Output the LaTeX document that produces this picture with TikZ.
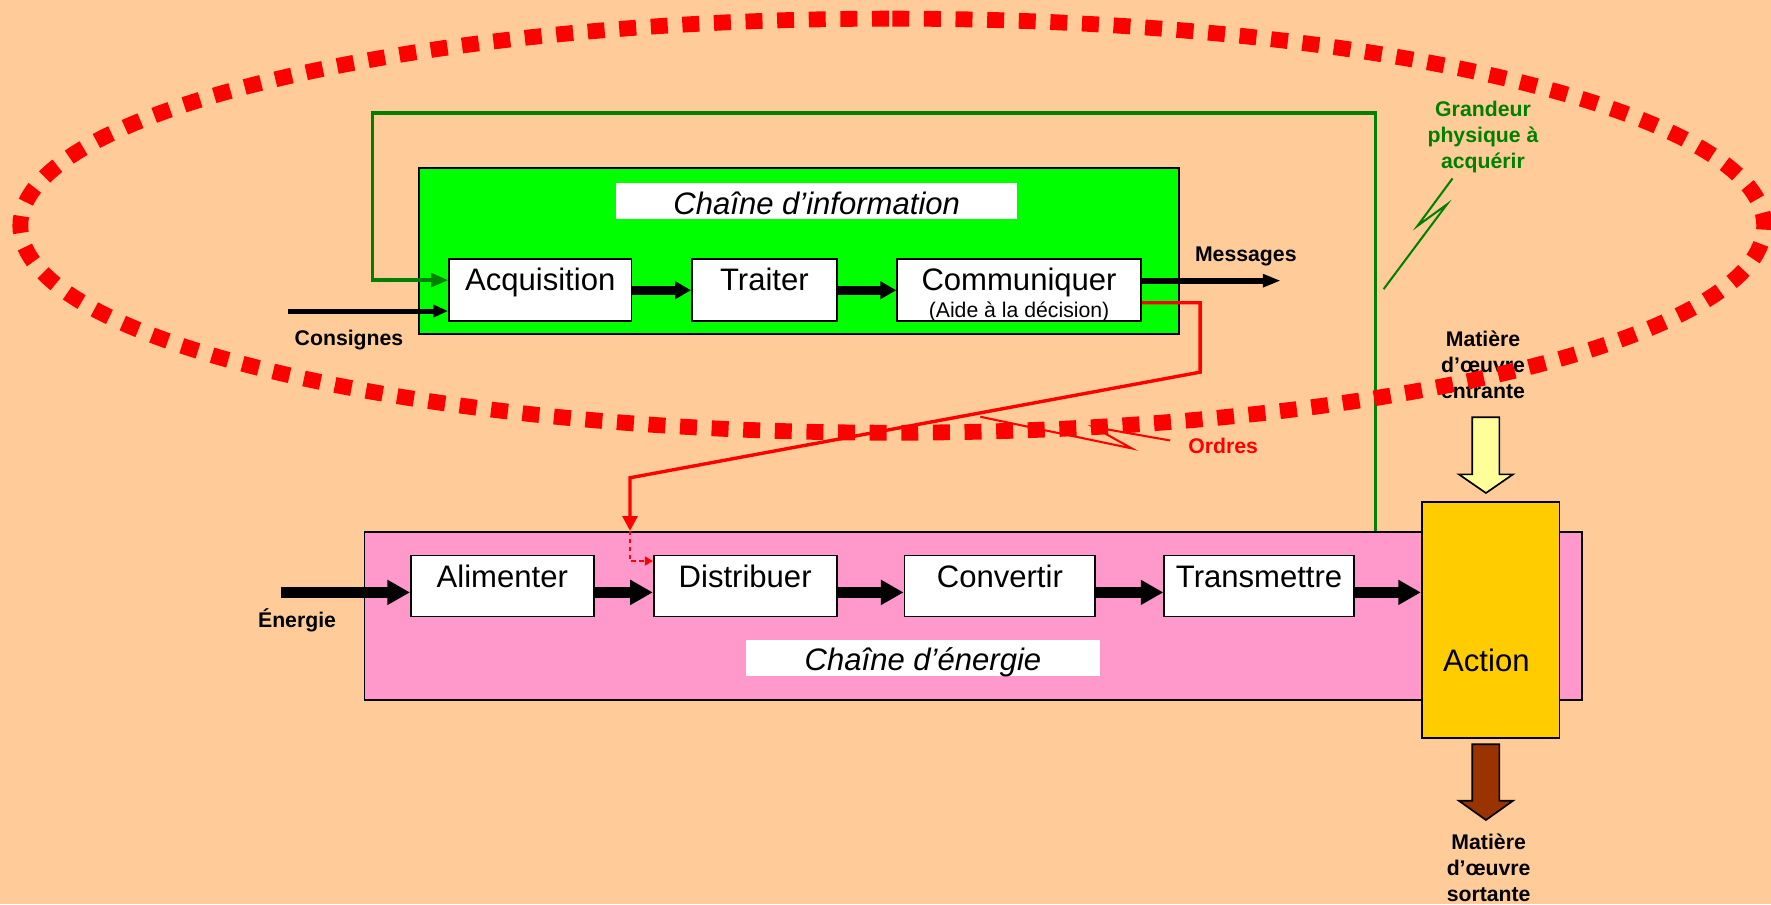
\documentclass[tikz,border=0pt]{standalone}
\usepackage{fontspec}
\setmainfont{Liberation Sans}
\usetikzlibrary{arrows.meta,calc}
\definecolor{bgpeach}{HTML}{FFCC99}
\definecolor{infogreen}{HTML}{00FF00}
\definecolor{darkgreen}{HTML}{008000}
\definecolor{energypink}{HTML}{FF99CC}
\definecolor{actionyellow}{HTML}{FFCC00}
\definecolor{lightyellow}{HTML}{FFFF99}
\definecolor{brownarrow}{HTML}{993300}
\definecolor{pptred}{HTML}{FF0000}
\begin{document}
\begin{tikzpicture}[x=1pt,y=-1pt,
  chainbox/.style={draw=black,line width=1.5pt,anchor=north west,inner sep=0pt},
  stepbox/.style={draw=black,line width=1.5pt,fill=white,anchor=north west,inner sep=0pt,minimum height=55pt},
  titlebox/.style={fill=white,anchor=north west,inner sep=0pt,minimum height=32.5pt},
  boxtext/.style={anchor=base,inner sep=0pt,font=\fontsize{27.5}{30}\selectfont},
  titletext/.style={anchor=base,inner sep=0pt,font=\fontsize{27.5}{30}\selectfont\itshape},
  lbl/.style={inner sep=0pt,align=center,font=\fontsize{18.8}{23}\selectfont\bfseries},
  infoarrow/.style={line width=8pt,-{Triangle[width=15pt,length=14pt]}},
  bigarrow/.style={line width=10pt,-{Triangle[width=21pt,length=20pt]}},
  greenline/.style={draw=darkgreen,line width=3pt},
  redline/.style={draw=pptred,line width=3pt},
  bolt/.style={line width=1.8pt},
]
% background
\fill[bgpeach] (0,0) rectangle (1568,800.4);
\useasboundingbox (0,0) rectangle (1568,800.4);

% ---------- chain of information ----------
\node[chainbox,fill=infogreen,minimum width=673pt,minimum height=147pt] (info) at (370.3,148.1) {};
\node[titlebox,minimum width=355pt] (infotitle) at (545.4,161.5) {};
\node[titletext] at ($(infotitle.north)+(0,28)$) {Chaîne d’information};

\node[stepbox,minimum width=161.5pt] (acq) at (396.8,228.7) {};
\node[boxtext] at ($(acq.north)+(0,28.8)$) {Acquisition};
\node[stepbox,minimum width=128.5pt] (trt) at (611.8,228.7) {};
\node[boxtext] at ($(trt.north)+(0,28.8)$) {Traiter};
\node[stepbox,minimum width=216pt] (com) at (793.5,228.7) {};
\node[boxtext] at ($(com.north)+(0,28.3)$) {Communiquer};
\node[anchor=base,inner sep=0pt,font=\fontsize{18.8}{20}\selectfont] at ($(com.north)+(0,52.5)$) {(Aide à la décision)};

\draw[infoarrow] (acq.east) -- (trt.west);
\draw[infoarrow] (trt.east) -- (com.west);

% consignes
\coordinate (consstart) at (255,275.4);
\draw[line width=4.4pt,-{Triangle[width=10.5pt,length=13pt]}] (consstart) -- (acq.west |- consstart);
\node[lbl] (consignes) at (309,301) {Consignes};

% messages
\coordinate (msgend) at (1134,248.5);
\draw[line width=5.5pt,-{Triangle[width=11pt,length=16pt]}] (com.east |- msgend) -- (msgend);
\node[lbl] (messages) at (1103,227) {Messages};

% ---------- chain of energy ----------
\node[chainbox,fill=energypink,minimum width=1078pt,minimum height=149pt] (energy) at (322,470) {};
\node[titlebox,minimum width=314pt] (entitle) at (660,566) {};
\node[titletext] at ($(entitle.north)+(0,28)$) {Chaîne d’énergie};

\node[stepbox,minimum width=162pt,minimum height=54pt] (ali) at (363,491) {};
\node[boxtext] at ($(ali.north)+(0,29)$) {Alimenter};
\node[stepbox,minimum width=162pt,minimum height=54pt] (dis) at (578,491) {};
\node[boxtext] at ($(dis.north)+(0,29)$) {Distribuer};
\node[stepbox,minimum width=169pt,minimum height=54pt] (cnv) at (800,491) {};
\node[boxtext] at ($(cnv.north)+(0,29)$) {Convertir};
\node[stepbox,minimum width=168pt,minimum height=54pt] (tra) at (1030,491) {};
\node[boxtext] at ($(tra.north)+(0,29)$) {Transmettre};

% action
\node[chainbox,fill=actionyellow,minimum width=122pt,minimum height=209pt] (act) at (1258,443.6) {};
\node[inner sep=0pt,font=\fontsize{27.5}{30}\selectfont] at (1316,585) {Action};

% energy arrows
\coordinate (enstart) at (249,524.5);
\draw[bigarrow] (enstart) -- (ali.west |- enstart);
\node[lbl] (energie) at (263,549) {Énergie};
\draw[bigarrow] (ali.east |- enstart) -- (dis.west |- enstart);
\draw[bigarrow] (dis.east |- enstart) -- (cnv.west |- enstart);
\draw[bigarrow] (cnv.east |- enstart) -- (tra.west |- enstart);
\draw[bigarrow] (tra.east |- enstart) -- (act.west |- enstart);

% block arrows (matter in / out)
\draw[fill=lightyellow,line width=1.5pt,line join=miter]
  (1303.5,369.5) -- (1327.5,369.5) -- (1327.5,420) -- (1339.5,420) -- (1315.6,436.5)
  -- (1291.7,420) -- (1303.5,420) -- cycle;
\draw[fill=brownarrow,line width=1.5pt,line join=miter]
  (1303.5,659) -- (1327.5,659) -- (1327.5,709) -- (1339.5,709) -- (1315.6,726)
  -- (1291.7,709) -- (1303.5,709) -- cycle;
\node[lbl] (entrante) at (1313,323) {Matière\\d’œuvre\\entrante};
\node[lbl] (sortante) at (1318,768) {Matière\\d’œuvre\\sortante};

% ---------- green feedback loop ----------
\coordinate (gtopR) at (1218,100);
\coordinate (gtopL) at (330,100);
\coordinate (gin) at (330,248);
\draw[greenline,-{Triangle[width=12pt,length=15pt]}]
  (gtopR |- energy.north) -- (gtopR) -- (gtopL) -- (gin) -- (acq.west |- gin);
\node[lbl,text=darkgreen] (grandeur) at (1313,121) {Grandeur\\physique à\\acquérir};
\draw[darkgreen,bolt] (1286,158) -- (1255,200) -- (1281,181) -- (1225,256);

% ---------- orders (red) ----------
\coordinate (r1) at (1062.5,268);
\coordinate (r2) at (1062.5,329.5);
\coordinate (r3) at (557.8,423);
\coordinate (r4) at (557.8,496.7);
\draw[redline,line join=miter,-{Triangle[width=13pt,length=13pt]}]
  (com.east |- r1) -- (r1) -- (r2) -- (r3) -- (r3 |- energy.north);
\draw[pptred,line width=1.5pt,dash pattern=on 4pt off 3pt,-{Triangle[width=8pt,length=7pt]}]
  (r3 |- energy.north) -- (r4) -- (dis.west |- r4);
\node[lbl,text=pptred] (ordres) at (1083,395) {Ordres};
\draw[pptred,bolt] (868,369) -- (1002,397) -- (968,378) -- (1036,390);

% ---------- red dashed ellipse ----------
\draw[pptred,line width=14pt,dash pattern=on 15pt off 13pt]
  (790,16.5) arc[start angle=-90,end angle=270,x radius=772,y radius=183.3];
\end{tikzpicture}
\end{document}
